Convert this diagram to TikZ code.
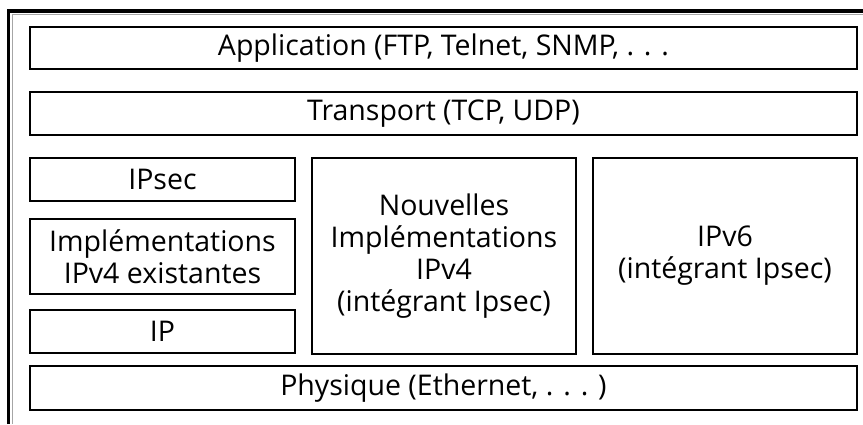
\documentclass[tikz,border=0pt]{standalone}
\usepackage{fontspec}
\setmainfont{Open Sans}
\begin{document}
\begin{tikzpicture}[x=1pt,y=-1pt,
  layer/.style={draw=black,line width=1.2pt,rectangle,inner sep=0pt,align=center,
    font=\fontsize{28.5}{32}\selectfont},
  frameline/.style={line width=3.5pt,black},
  frameinner/.style={line width=1pt,gray!70}]
\useasboundingbox (0,0) rectangle (863,424);
% outer frame (open to the right and bottom)
\draw[frameline] (8.5,424) -- (8.5,11) -- (863,11);
\draw[frameinner] (12,424) -- (12,14) -- (863,14);
% protocol layers
\node[layer,minimum width=827pt,minimum height=42pt] (app) at (443.5,48)
  {Application (FTP, Telnet, SNMP, . . .};
\node[layer,minimum width=827pt,minimum height=43pt] (trans) at (443.5,113.5)
  {Transport (TCP, UDP)};
\node[layer,minimum width=265pt,minimum height=43pt] (ipsec) at (162.5,179.5)
  {IPsec};
\node[layer,minimum width=265pt,minimum height=75pt] (impl) at (162.5,256.5)
  {Implémentations\\IPv4 existantes};
\node[layer,minimum width=265pt,minimum height=43pt] (ip) at (162.5,331.5)
  {IP};
\node[layer,minimum width=264pt,minimum height=196pt] (nouv) at (444,256)
  {Nouvelles\\Implémentations\\IPv4\\(intégrant Ipsec)};
\node[layer,minimum width=264pt,minimum height=196pt] (ipv6) at (725,256)
  {IPv6\\(intégrant Ipsec)};
\node[layer,minimum width=827pt,minimum height=44pt] (phys) at (443.5,388)
  {Physique (Ethernet, . . . )};
\end{tikzpicture}
\end{document}
